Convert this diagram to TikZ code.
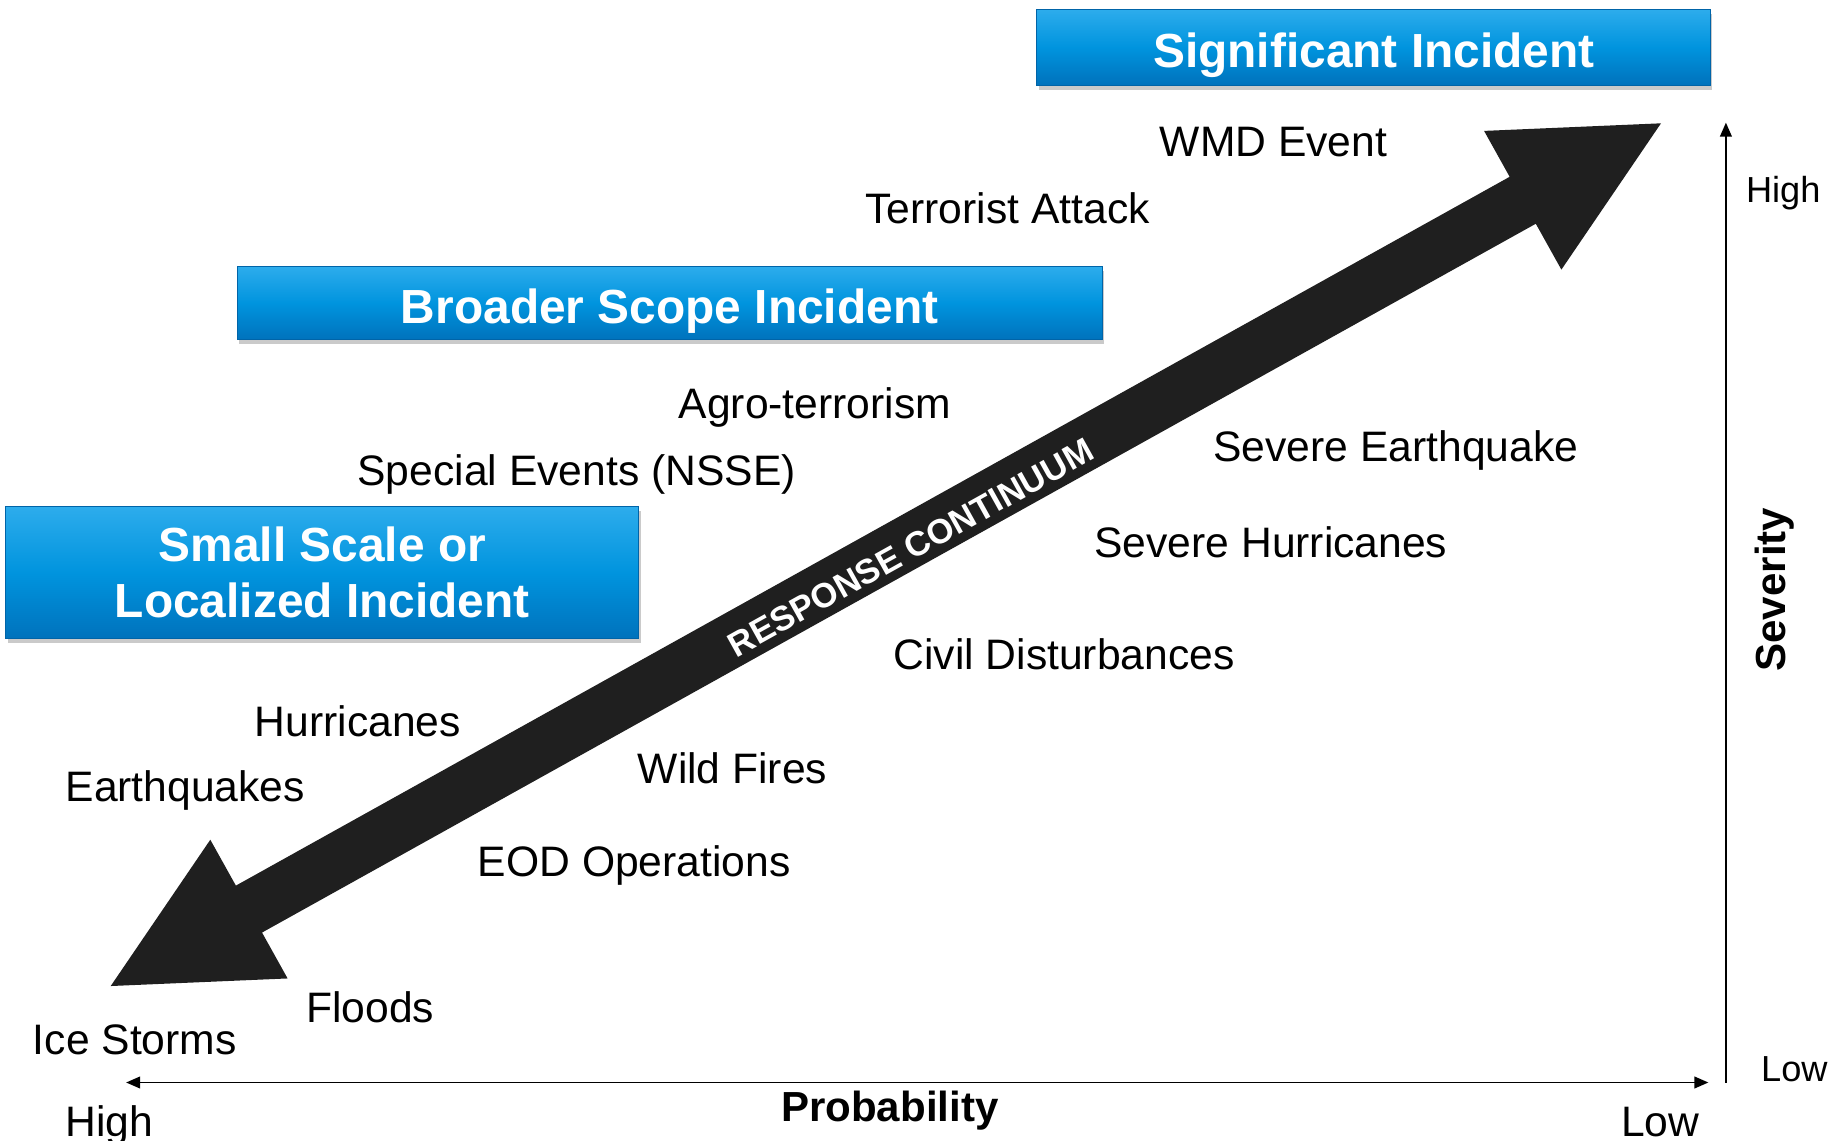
\documentclass[tikz,border=0pt]{standalone}
\usepackage{fontspec}
\setmainfont{Liberation Sans}
\usetikzlibrary{arrows.meta,shadows}
\definecolor{boxtop}{RGB}{45,172,236}
\definecolor{boxmid}{RGB}{0,148,222}
\definecolor{boxbot}{RGB}{0,114,188}
\definecolor{boxline}{RGB}{0,100,168}
\definecolor{arrowblack}{RGB}{31,31,31}
\tikzset{
  incbox/.style={shade, top color=boxtop, bottom color=boxbot, middle color=boxmid,
    draw=boxline, line width=0.8pt, text=white, align=center,
    font=\bfseries\fontsize{41}{48}\selectfont, inner sep=0pt,
    drop shadow={shadow xshift=1.5pt, shadow yshift=-4pt, opacity=0.35, fill=black!60}},
  oneline/.style={text height=35pt, text depth=0pt},
  lab/.style={font=\fontsize{36.5}{40}\selectfont, anchor=base west, inner sep=0pt},
  axlab/.style={font=\fontsize{31}{34}\selectfont, anchor=base west, inner sep=0pt},
  axtitle/.style={font=\bfseries\fontsize{36}{40}\selectfont, inner sep=0pt},
  axis/.style={line width=1.6pt, arrows={-Triangle[length=12pt,width=10pt]}},
}
\begin{document}
\begin{tikzpicture}[x=1pt,y=-1pt]
\useasboundingbox (0,0) rectangle (1568,977);

% response continuum arrow
\fill[arrowblack] (94.8,844.4) -- (180.1,719.1) -- (202.0,758.4) -- (1292.8,151.4)
  -- (1270.9,112.1) -- (1422.4,105.6) -- (1337.1,230.9) -- (1315.2,191.6)
  -- (224.4,798.6) -- (246.3,837.9) -- cycle;
\node[text=white, font=\bfseries\fontsize{29.5}{32}\selectfont, rotate=29.1, inner sep=0pt] (rc) at (780,469) {RESPONSE CONTINUUM};

% boxes
\node[incbox, oneline, minimum width=577pt, minimum height=65pt] (sig) at (1176.5,40.5) {Significant Incident};
\node[incbox, oneline, minimum width=741pt, minimum height=63pt] (broad) at (573.5,259.5) {Broader Scope Incident};
\node[incbox, minimum width=542pt, minimum height=113pt] (small) at (276,490.5) {\raisebox{-2pt}{Small Scale or}\\\raisebox{-2pt}{Localized Incident}};

% labels
\node[lab] (wmd) at (993,134) {WMD Event};
\node[lab] (terr) at (741,191) {Terrorist Attack};
\node[lab] (agro) at (581,358) {Agro-terrorism};
\node[lab] (nsse) at (306,416) {Special Events (NSSE)};
\node[lab] (seq) at (1039,395) {Severe Earthquake};
\node[lab] (shur) at (937,477) {Severe Hurricanes};
\node[lab] (civil) at (765,573) {Civil Disturbances};
\node[lab] (hur) at (218,631) {Hurricanes};
\node[lab] (eq) at (56,686) {Earthquakes};
\node[lab] (wild) at (546,671) {Wild Fires};
\node[lab] (eod) at (409,751) {EOD Operations};
\node[lab] (flood) at (262,876) {Floods};
\node[lab] (ice) at (28,903) {Ice Storms};

% axes
\coordinate (hl) at (108,927);
\coordinate (hr) at (1463,927);
\coordinate (vb) at (1478,927);
\coordinate (vt) at (1478,105);
\draw[axis, arrows={Triangle[length=12pt,width=10pt]-Triangle[length=12pt,width=10pt]}] (hl) -- (hr);
\draw[axis] (vb) -- (vt);

\node[lab] (phigh) at (56,973) {High};
\node[lab] (plow) at (1388,973) {Low};
\node[axtitle] (prob) at (762,951) {Probability};
\node[axlab] (shigh) at (1495,173) {High};
\node[axlab] (slow) at (1508,926) {Low};
\node[axtitle, rotate=90] (sev) at (1520,505) {Severity};
\end{tikzpicture}
\end{document}
